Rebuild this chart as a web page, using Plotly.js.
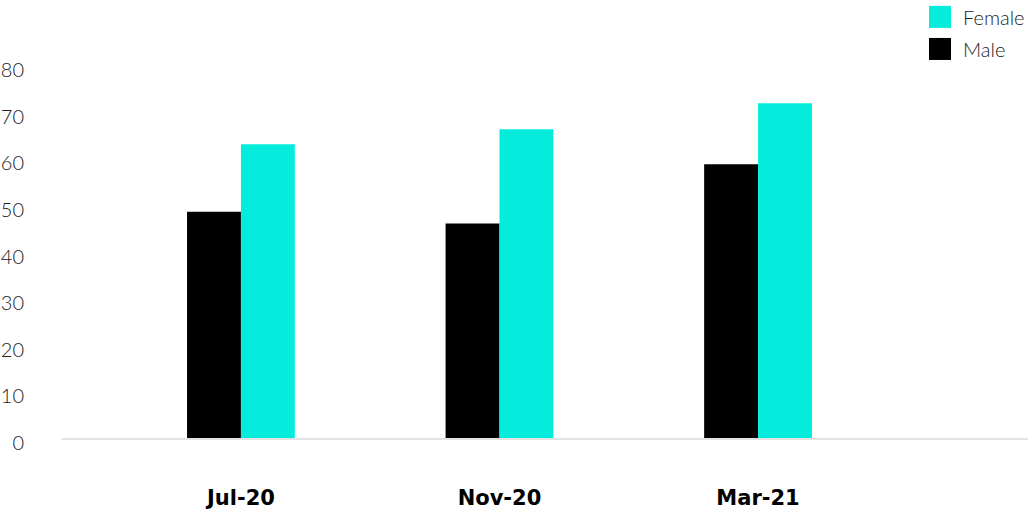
<!DOCTYPE html>
<html>
<head>
<meta charset="utf-8">
<script src="https://cdn.plot.ly/plotly-3.0.1.min.js"></script>
<style>
  html, body { margin: 0; padding: 0; background: #fff; }
  #chart { width: 1033px; height: 509px; }
</style>
</head>
<body>
<div id="chart"></div>
<script>
// Survey waves and the share reported for each group
const periods = ['Jul-20', 'Nov-20', 'Mar-21'];
const maleValues = [48.5, 46, 58.7];
const femaleValues = [63, 66.2, 71.8];
const yTicks = [0, 10, 20, 30, 40, 50, 60, 70, 80];

const MALE_COLOR = '#000000';
const FEMALE_COLOR = '#05ECDD';
const TEXT_COLOR = '#222222';
const FONT = 'Lato, "Open Sans", sans-serif';
const BOLD_FONT = '"DejaVu Sans", Lato, sans-serif';

const traces = [
  { type: 'bar', name: 'Male', x: periods, y: maleValues,
    marker: { color: MALE_COLOR }, hoverinfo: 'skip' },
  { type: 'bar', name: 'Female', x: periods, y: femaleValues,
    marker: { color: FEMALE_COLOR }, hoverinfo: 'skip' }
];

// Legend drawn as square swatches with labels, top-right corner
const legendItems = [
  { label: 'Female', color: FEMALE_COLOR, y: 1.129 },
  { label: 'Male', color: MALE_COLOR, y: 1.043 }
];
const swatch = 0.0295; // half-height in paper units
const shapes = legendItems.map(it => ({
  type: 'rect', xref: 'paper', yref: 'paper',
  x0: 0.8975, x1: 0.9203, y0: it.y - swatch, y1: it.y + swatch,
  fillcolor: it.color, line: { width: 0 }
}));
const annotations = legendItems.map(it => ({
  xref: 'paper', yref: 'paper', x: 0.931, y: it.y,
  xanchor: 'left', yanchor: 'middle', showarrow: false,
  text: it.label, font: { family: FONT, size: 20, color: TEXT_COLOR, weight: 300 }
}));

const layout = {
  width: 1033, height: 509,
  margin: { l: 62, r: 5, t: 65, b: 71 },
  paper_bgcolor: '#fff', plot_bgcolor: '#fff',
  showlegend: false,
  barmode: 'group',
  bargap: 0.583,
  bargroupgap: 0,
  xaxis: {
    type: 'category',
    range: [-0.692, 3.044],
    showgrid: false, zeroline: false,
    showline: true, linecolor: '#e3e3e3', linewidth: 2,
    ticks: '', ticklabelstandoff: 40,
    tickfont: { family: BOLD_FONT, size: 21, color: '#000', weight: 700 }
  },
  yaxis: {
    range: [0, 80],
    tickvals: yTicks,
    showgrid: false, zeroline: false, showline: false,
    ticks: '', ticklabelposition: 'outside',
    ticklabelshift: 5,
    ticklabelstandoff: 37,
    tickfont: { family: FONT, size: 20, color: TEXT_COLOR, weight: 300 }
  },
  shapes: shapes,
  annotations: annotations
};

Plotly.newPlot('chart', traces, layout, { displayModeBar: false, staticPlot: true });
</script>
</body>
</html>
